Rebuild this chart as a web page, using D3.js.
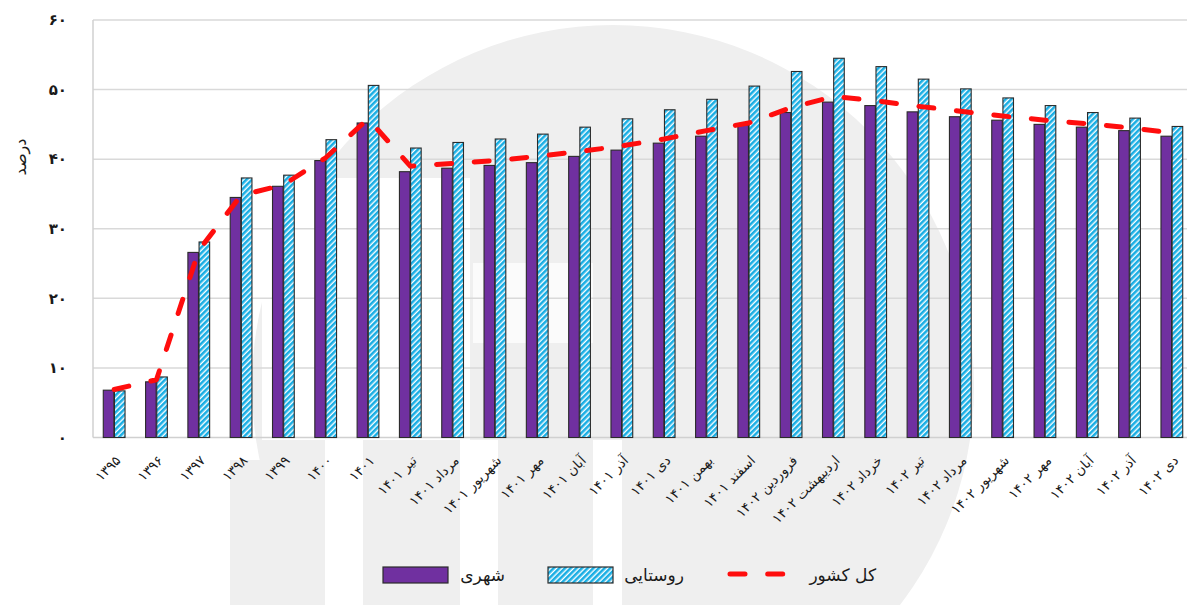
<!DOCTYPE html>
<html><head><meta charset="utf-8">
<script src="https://cdn.jsdelivr.net/npm/d3@7"></script>
<style>
html,body{margin:0;padding:0;background:#fff;}
svg{display:block;}
text{font-family:"DejaVu Sans",sans-serif;fill:#1a1a1a;}
</style></head>
<body>
<svg id="chart" width="1187" height="605"></svg>
<script>
const categories = ["۱۳۹۵","۱۳۹۶","۱۳۹۷","۱۳۹۸","۱۳۹۹","۱۴۰۰","۱۴۰۱","تیر ۱۴۰۱","مرداد ۱۴۰۱","شهریور ۱۴۰۱","مهر ۱۴۰۱","آبان ۱۴۰۱","آذر ۱۴۰۱","دی ۱۴۰۱","بهمن ۱۴۰۱","اسفند ۱۴۰۱","فروردین ۱۴۰۲","اردیبهشت ۱۴۰۲","خرداد ۱۴۰۲","تیر ۱۴۰۲","مرداد ۱۴۰۲","شهریور ۱۴۰۲","مهر ۱۴۰۲","آبان ۱۴۰۲","آذر ۱۴۰۲","دی ۱۴۰۲"];
const urban = [6.8, 8.0, 26.6, 34.5, 36.1, 39.8, 45.2, 38.2, 38.7, 39.1, 39.5, 40.4, 41.3, 42.3, 43.3, 44.9, 46.7, 48.2, 47.7, 46.8, 46.1, 45.6, 45.0, 44.6, 44.1, 43.3];
const rural = [6.7, 8.7, 28.1, 37.3, 37.7, 42.8, 50.6, 41.6, 42.4, 42.9, 43.6, 44.6, 45.8, 47.1, 48.6, 50.5, 52.6, 54.5, 53.3, 51.5, 50.1, 48.8, 47.7, 46.7, 45.9, 44.7];
const total = [6.9, 8.3, 26.9, 34.8, 36.3, 40.2, 45.8, 39.0, 39.4, 39.8, 40.4, 41.1, 41.9, 42.9, 44.1, 45.2, 47.4, 49.0, 48.4, 47.6, 46.9, 46.2, 45.6, 45.1, 44.5, 43.8];
const yTickValues = [0, 10, 20, 30, 40, 50, 60];
const yTickLabels = ["۰","۱۰","۲۰","۳۰","۴۰","۵۰","۶۰"];
const seriesNames = ["شهری", "روستایی", "کل کشور"];
const yTitle = "درصد";

const svg = d3.select("#chart");
const plot = {left: 93, right: 1193, top: 20, bottom: 437.5};

// watermark
const wm = svg.append("g");
wm.append("circle").attr("cx", 613).attr("cy", 386).attr("r", 361).attr("fill", "#efefef");
wm.append("rect").attr("x", 262).attr("y", 178).attr("width", 208).attr("height", 262).attr("fill", "#fff");
wm.append("rect").attr("x", 473).attr("y", 263).attr("width", 120).attr("height", 80).attr("fill", "#fbfbfb");
wm.append("rect").attr("x", 230).attr("y", 460).attr("width", 95).attr("height", 145).attr("fill", "#efefef");
[[325,38],[460,38],[593,29]].forEach(([x,w]) => wm.append("rect").attr("x", x).attr("y", 440).attr("width", w).attr("height", 165).attr("fill", "#fff"));

const x = d3.scaleBand().domain(categories).range([plot.left, plot.right]).padding(0);
const y = d3.scaleLinear().domain([0, 60]).range([plot.bottom, plot.top]);
const bw = x.bandwidth() * 0.25;

// hatch pattern
const defs = svg.append("defs");
const pat = defs.append("pattern").attr("id", "hatch").attr("patternUnits", "userSpaceOnUse")
  .attr("width", 4).attr("height", 4).attr("patternTransform", "rotate(45)");
pat.append("rect").attr("width", 4).attr("height", 4).attr("fill", "#ffffff");
pat.append("rect").attr("width", 2.6).attr("height", 4).attr("fill", "#19aee4");

// gridlines
svg.append("g").selectAll("line").data(yTickValues.slice(1)).join("line")
  .attr("x1", plot.left).attr("x2", plot.right)
  .attr("y1", d => y(d)).attr("y2", d => y(d))
  .attr("stroke", "#d9d9d9").attr("stroke-width", 1.5);
svg.append("line").attr("x1", plot.left).attr("x2", plot.left).attr("y1", plot.top).attr("y2", plot.bottom).attr("stroke", "#d0d0d0").attr("stroke-width", 1.5);
svg.append("line").attr("x1", plot.left).attr("x2", plot.right).attr("y1", plot.bottom).attr("y2", plot.bottom).attr("stroke", "#d0d0d0").attr("stroke-width", 1.5);

// y axis
const yAxis = d3.axisLeft(y).tickValues(yTickValues).tickFormat((d, i) => yTickLabels[i]).tickSize(0).tickPadding(0);
const yg = svg.append("g").attr("transform", `translate(67,0)`).call(yAxis);
yg.select(".domain").remove();
yg.selectAll("text").attr("font-size", 15).attr("font-weight", "bold").attr("fill", "#262626")
  .attr("font-family", "DejaVu Sans");

svg.append("text").attr("transform", "translate(26,157) rotate(-90)")
  .attr("text-anchor", "middle").attr("font-size", 16).attr("fill", "#262626").text(yTitle);

// bars
const gb = svg.append("g");
gb.selectAll(".u").data(categories).join("rect").attr("class", "u")
  .attr("x", d => x(d) + x.bandwidth() / 2 - bw - 0.3)
  .attr("y", (d, i) => y(urban[i]))
  .attr("width", bw).attr("height", (d, i) => y(0) - y(urban[i]))
  .attr("fill", "#7030a0").attr("stroke", "#2b2b2b").attr("stroke-width", 1.1);
gb.selectAll(".r").data(categories).join("rect").attr("class", "r")
  .attr("x", d => x(d) + x.bandwidth() / 2 + 0.3)
  .attr("y", (d, i) => y(rural[i]))
  .attr("width", bw).attr("height", (d, i) => y(0) - y(rural[i]))
  .attr("fill", "url(#hatch)").attr("stroke", "#2b2b2b").attr("stroke-width", 1.1);

// line
const line = d3.line().x((d, i) => x(categories[i]) + x.bandwidth() / 2).y(d => y(d));
svg.append("path").datum(total).attr("d", line)
  .attr("fill", "none").attr("stroke", "#ff0d0d").attr("stroke-width", 5)
  .attr("stroke-dasharray", "15,22.7").attr("stroke-linecap", "round").attr("stroke-linejoin", "round");

// x labels
const xg = svg.append("g");
xg.selectAll("text").data(categories).join("text")
  .attr("transform", d => `translate(${x(d) + x.bandwidth() / 2 + 4},458) rotate(-45)`)
  .attr("text-anchor", "end").attr("dy", "0.35em")
  .attr("font-size", 13.5).attr("fill", "#1a1a1a").text(d => d);

// legend
const lg = svg.append("g");
lg.append("rect").attr("x", 383).attr("y", 567).attr("width", 65).attr("height", 16)
  .attr("fill", "#7030a0").attr("stroke", "#2b2b2b").attr("stroke-width", 1.2);
lg.append("text").attr("x", 505).attr("y", 581).attr("text-anchor", "end").attr("font-size", 17).text(seriesNames[0]);
lg.append("rect").attr("x", 548).attr("y", 567).attr("width", 65).attr("height", 16)
  .attr("fill", "url(#hatch)").attr("stroke", "#2b2b2b").attr("stroke-width", 1.2);
lg.append("text").attr("x", 684).attr("y", 581).attr("text-anchor", "end").attr("font-size", 17).text(seriesNames[1]);
lg.append("line").attr("x1", 730).attr("x2", 787).attr("y1", 574).attr("y2", 574)
  .attr("stroke", "#ff0d0d").attr("stroke-width", 5).attr("stroke-dasharray", "15,22.7").attr("stroke-linecap", "round");
lg.append("text").attr("x", 876).attr("y", 581).attr("text-anchor", "end").attr("font-size", 17).text(seriesNames[2]);
</script>
</body></html>
